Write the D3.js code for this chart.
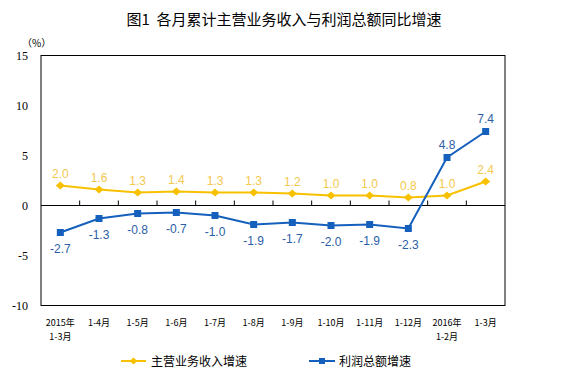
<!doctype html>
<html>
<head>
<meta charset="utf-8">
<style>
body { margin: 0; background: #fff; }
svg { font-family: "Noto Sans CJK SC", sans-serif; }
.serif { font-family: "Liberation Serif", "DejaVu Serif", serif; }
.num { font-family: "Liberation Sans", Arial, sans-serif; }
</style>
</head>
<body>
<svg width="567" height="385"></svg>
<script src="https://cdn.jsdelivr.net/npm/d3@7"></script>
<script>
var categories = [["2015年", "1-3月"], ["1-4月"], ["1-5月"], ["1-6月"], ["1-7月"], ["1-8月"],
    ["1-9月"], ["1-10月"], ["1-11月"], ["1-12月"], ["2016年", "1-2月"], ["1-3月"]];
var revenue = [2.0, 1.6, 1.3, 1.4, 1.3, 1.3, 1.2, 1.0, 1.0, 0.8, 1.0, 2.4];
var profit = [-2.7, -1.3, -0.8, -0.7, -1.0, -1.9, -1.7, -2.0, -1.9, -2.3, 4.8, 7.4];
var yTicks = [-10, -5, 0, 5, 10, 15];

var svg = d3.select("svg"),
    margin = { top: 55.5, right: 62, bottom: 79.5, left: 41 },
    width = 567 - margin.left - margin.right,
    height = 385 - margin.top - margin.bottom,
    g = svg.append("g").attr("transform", "translate(" + margin.left + "," + margin.top + ")");

var idx = d3.range(categories.length);
var x = d3.scaleBand().domain(idx).range([0, width]);
var y = d3.scaleLinear().domain([-10, 15]).range([height, 0]);
var cx = function(i) { return x(i) + x.bandwidth() / 2; };

var yellow = "#f7c100", yellowTxt = "#f3c84e", blue = "#1560bd", blueTxt = "#2c5ea6";
// wide diamond marker
var diamond = function(w, h) { return "M" + (-w) + ",0L0," + (-h) + "L" + w + ",0L0," + h + "Z"; };

// title
svg.append("text").attr("x", 284).attr("y", 25).attr("text-anchor", "middle")
    .attr("font-size", 15).attr("fill", "#000").style("white-space", "pre")
    .text("图1  各月累计主营业务收入与利润总额同比增速");
svg.append("text").attr("x", 22).attr("y", 47).attr("font-size", 10)
    .text("（%）");

// frame
g.append("rect").attr("width", width).attr("height", height)
    .attr("fill", "none").attr("stroke", "#000").attr("stroke-width", 1);

// y axis labels
g.selectAll(".ytick").data(yTicks).enter().append("text").attr("class", "serif")
    .attr("x", -13).attr("y", function(d) { return y(d) + 4; })
    .attr("text-anchor", "end").attr("font-size", 12)
    .text(function(d) { return d; });

// zero line with ticks at category boundaries
g.append("line").attr("x1", 0).attr("x2", width).attr("y1", y(0)).attr("y2", y(0))
    .attr("stroke", "#000");
g.selectAll(".xt").data(d3.range(1, categories.length)).enter().append("line")
    .attr("x1", function(i) { return x(i); }).attr("x2", function(i) { return x(i); })
    .attr("y1", y(0)).attr("y2", y(0) - 5).attr("stroke", "#000");

// x labels
var xl = g.selectAll(".xl").data(idx).enter().append("text")
    .attr("text-anchor", "middle").attr("font-size", 9).attr("fill", "#000")
    .attr("transform", function(i) { return "translate(" + cx(i) + "," + (height + 20) + ")"; });
xl.selectAll("tspan").data(function(i) { return categories[i]; }).enter().append("tspan")
    .attr("x", 0).attr("dy", function(d, j) { return j ? 14 : 0; })
    .text(function(d) { return d; });

var line = d3.line().x(function(d, i) { return cx(i); }).y(function(d) { return y(d); });

// revenue series
g.append("path").datum(revenue).attr("d", line).attr("fill", "none")
    .attr("stroke", yellow).attr("stroke-width", 2);
g.selectAll(".rm").data(revenue).enter().append("path")
    .attr("d", diamond(4.5, 4))
    .attr("transform", function(d, i) { return "translate(" + cx(i) + "," + y(d) + ")"; })
    .attr("fill", yellow);
g.selectAll(".rl").data(revenue).enter().append("text").attr("class", "num")
    .attr("x", function(d, i) { return cx(i); }).attr("y", function(d) { return y(d) - 8; })
    .attr("text-anchor", "middle").attr("font-size", 12)
    .attr("fill", yellowTxt).text(function(d) { return d.toFixed(1); });

// profit series
g.append("path").datum(profit).attr("d", line).attr("fill", "none")
    .attr("stroke", blue).attr("stroke-width", 2);
g.selectAll(".pm").data(profit).enter().append("rect")
    .attr("x", function(d, i) { return cx(i) - 3.5; }).attr("y", function(d) { return y(d) - 3.5; })
    .attr("width", 7).attr("height", 7).attr("fill", blue);
g.selectAll(".pl").data(profit).enter().append("text").attr("class", "num")
    .attr("x", function(d, i) { return cx(i); })
    .attr("y", function(d) { return d < 0 ? y(d) + 20 : y(d) - 9; })
    .attr("text-anchor", "middle").attr("font-size", 12)
    .attr("fill", blueTxt).text(function(d) { return d.toFixed(1); });

// legend
var leg = svg.append("g").attr("transform", "translate(0,361)");
leg.append("line").attr("x1", 121).attr("x2", 146).attr("stroke", yellow).attr("stroke-width", 2);
leg.append("path").attr("d", diamond(4, 3.5)).attr("transform", "translate(133.5,0)").attr("fill", yellow);
leg.append("text").attr("x", 151).attr("y", 5).attr("font-size", 12).text("主营业务收入增速");
leg.append("line").attr("x1", 309).attr("x2", 335).attr("stroke", blue).attr("stroke-width", 2);
leg.append("rect").attr("x", 319).attr("y", -3).attr("width", 6).attr("height", 6).attr("fill", blue);
leg.append("text").attr("x", 339).attr("y", 5).attr("font-size", 12).text("利润总额增速");
</script>
</body>
</html>
